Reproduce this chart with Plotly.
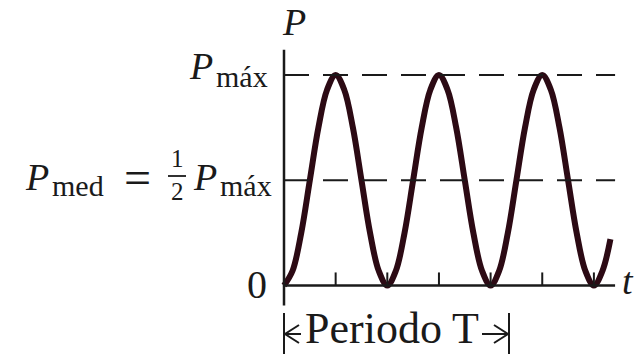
import plotly.graph_objects as go

# Instantaneous power over time, in units of the period T and of P_max
t_vals = [0, 0.083, 0.167, 0.25, 0.333, 0.417, 0.5, 0.583, 0.667, 0.75, 0.833, 0.917,
          1.0, 1.083, 1.167, 1.25, 1.333, 1.417, 1.5, 1.583, 1.667, 1.75, 1.833, 1.917,
          2.0, 2.083, 2.167, 2.25, 2.333, 2.417, 2.5, 2.583, 2.667, 2.75, 2.833, 2.917,
          3.0, 3.083, 3.16]
p_vals = [0, 0.07, 0.25, 0.5, 0.75, 0.93, 1, 0.93, 0.75, 0.5, 0.25, 0.07,
          0, 0.07, 0.25, 0.5, 0.75, 0.93, 1, 0.93, 0.75, 0.5, 0.25, 0.07,
          0, 0.07, 0.25, 0.5, 0.75, 0.93, 1, 0.93, 0.75, 0.5, 0.25, 0.07,
          0, 0.07, 0.22]

# Reference levels: P_max and P_med = P_max / 2
levels = [1.0, 0.5]
# Tick marks on the time axis every half period
tick_t = [0.5, 1.0, 1.5, 2.0, 2.5, 3.0]
# Extent of the drawn axes
t_axis_end = 3.205
p_axis_top = 1.12
p_axis_bottom = -0.095
tick_len = 0.062

W, H = 638, 354
INK = "#1a1a1a"
CURVE = "#2c0a14"
FONT = "Liberation Serif"


def px(x):
    return x / W


def py(y):
    return 1 - y / H


fig = go.Figure()
fig.add_trace(go.Scatter(
    x=t_vals, y=p_vals, mode="lines",
    line=dict(color=CURVE, width=6, shape="spline", smoothing=1.0),
    hoverinfo="skip", showlegend=False,
))

shapes = []
# axes
shapes.append(dict(type="line", xref="x", yref="y", x0=0, x1=0,
                   y0=p_axis_bottom, y1=p_axis_top, line=dict(color=INK, width=2.5)))
shapes.append(dict(type="line", xref="x", yref="y", x0=0, x1=t_axis_end,
                   y0=0, y1=0, line=dict(color=INK, width=2.5)))
# dashed reference levels
for lv in levels:
    shapes.append(dict(type="line", xref="x", yref="y", x0=0, x1=t_axis_end,
                       y0=lv, y1=lv, line=dict(color=INK, width=2, dash="25px,14px")))
# ticks
for tt in tick_t:
    shapes.append(dict(type="line", xref="x", yref="y", x0=tt, x1=tt,
                       y0=0, y1=tick_len, line=dict(color=INK, width=2)))

# period marker below the axis
for xb, y0b in [(284, 313), (509, 313)]:
    shapes.append(dict(type="line", xref="paper", yref="paper",
                       x0=px(xb), x1=px(xb), y0=py(y0b), y1=py(354),
                       line=dict(color=INK, width=2)))
ya = 334
shapes.append(dict(type="line", xref="paper", yref="paper",
                   x0=px(285), x1=px(301), y0=py(ya), y1=py(ya), line=dict(color=INK, width=2)))
shapes.append(dict(type="path", xref="paper", yref="paper",
                   path=f"M {px(299)} {py(ya-9)} L {px(285)} {py(ya)} L {px(299)} {py(ya+9)}",
                   line=dict(color=INK, width=2)))
shapes.append(dict(type="line", xref="paper", yref="paper",
                   x0=px(482), x1=px(508), y0=py(ya), y1=py(ya), line=dict(color=INK, width=2)))
shapes.append(dict(type="path", xref="paper", yref="paper",
                   path=f"M {px(494)} {py(ya-9)} L {px(508)} {py(ya)} L {px(494)} {py(ya+9)}",
                   line=dict(color=INK, width=2)))
# fraction bar of 1/2
shapes.append(dict(type="line", xref="paper", yref="paper",
                   x0=px(168), x1=px(186), y0=py(176), y1=py(176), line=dict(color=INK, width=1.8)))


def label(text, x, y, size, italic=False):
    if italic:
        text = f"<i>{text}</i>"
    return dict(text=text, x=px(x), y=py(y), xref="paper", yref="paper",
                xanchor="center", yanchor="middle", showarrow=False,
                font=dict(family=FONT, size=size, color=INK))


annotations = [
    # axis names
    label("P", 294, 22, 38, italic=True),
    label("t", 628, 281, 38, italic=True),
    label("0", 257, 284, 40),
    # P_máx on the upper dashed level
    label("P", 201, 66, 38, italic=True),
    label("máx", 242, 77, 30),
    # P_med = 1/2 P_máx on the middle level
    label("P", 37, 177, 38, italic=True),
    label("med", 78, 185, 30),
    label("=", 137, 177, 48),
    label("1", 177, 158, 25),
    label("2", 177, 191, 25),
    label("P", 205, 177, 38, italic=True),
    label("máx", 246, 185, 30),
    # period marker
    label("Periodo T", 392, 328, 44),
]

x_lo, x_hi = -284 / 103.3, (W - 284) / 103.3
y_lo, y_hi = -(H - 285.5) / 210.5, 285.5 / 210.5

fig.update_layout(
    width=W, height=H,
    margin=dict(l=0, r=0, t=0, b=0),
    paper_bgcolor="white", plot_bgcolor="white",
    xaxis=dict(range=[x_lo, x_hi], visible=False, fixedrange=True),
    yaxis=dict(range=[y_lo, y_hi], visible=False, fixedrange=True),
    shapes=shapes, annotations=annotations,
)

fig.write_html("out.html")
